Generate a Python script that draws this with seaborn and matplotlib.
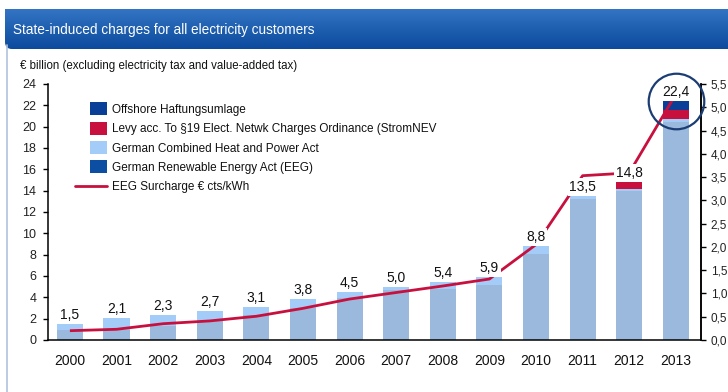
import numpy as np
import pandas as pd
import matplotlib
matplotlib.use("Agg")
import matplotlib.pyplot as plt
import seaborn as sns
from matplotlib import font_manager
from matplotlib.patches import FancyBboxPatch, Rectangle
from matplotlib.lines import Line2D
from matplotlib.legend_handler import HandlerPatch
from matplotlib.colors import LinearSegmentedColormap

# ---------------- data ----------------
years = ["2000", "2001", "2002", "2003", "2004", "2005", "2006",
         "2007", "2008", "2009", "2010", "2011", "2012", "2013"]
eeg = [0.9, 0.9, 1.3, 1.8, 2.3, 3.0, 3.9, 4.7, 4.8, 5.2, 8.1, 13.2, 14.0, 20.4]
chp = [0.6, 1.2, 1.0, 0.9, 0.8, 0.8, 0.6, 0.3, 0.6, 0.7, 0.7, 0.3, 0.2, 0.3]
stromnev = [0, 0, 0, 0, 0, 0, 0, 0, 0, 0, 0, 0, 0.6, 0.9]
offshore = [0, 0, 0, 0, 0, 0, 0, 0, 0, 0, 0, 0, 0, 0.8]
totals = [1.5, 2.1, 2.3, 2.7, 3.1, 3.8, 4.5, 5.0, 5.4, 5.9, 8.8, 13.5, 14.8, 22.4]
surcharge = [0.20, 0.23, 0.35, 0.41, 0.51, 0.68, 0.88, 1.02, 1.16, 1.31,
             2.05, 3.53, 3.59, 5.28]
left_ticks = list(range(0, 25, 2))
right_ticks = [0.0, 0.5, 1.0, 1.5, 2.0, 2.5, 3.0, 3.5, 4.0, 4.5, 5.0, 5.5]

legend_labels = ["Offshore Haftungsumlage",
                 "Levy acc. To §19 Elect. Netwk Charges Ordinance (StromNEV",
                 "German Combined Heat and Power Act",
                 "German Renewable Energy Act (EEG)",
                 "EEG Surcharge € cts/kWh"]

title = "State-induced charges for all electricity customers"
subtitle = "€ billion (excluding electricity tax and value-added tax)"

# ---------------- style ----------------
sns.set_theme(style="white")
available = {f.name for f in font_manager.fontManager.ttflist}
base_font = "Liberation Sans" if "Liberation Sans" in available else "DejaVu Sans"
plt.rcParams["font.family"] = [base_font, "DejaVu Sans"]

c_eeg_bar = "#9ab9dc"
c_eeg_leg = "#0b4ea2"
c_chp = "#a3cdf8"
c_nev = "#c8103e"
c_off = "#0a3f97"
c_line = "#c8103e"
c_circle = "#1b3d73"

W, H = 728, 392
fig = plt.figure(figsize=(W / 100, H / 100), dpi=100)
fig.patch.set_facecolor("white")

# header band with gradient (axes sized in pixels so data units = pixels)
hx0, hy0, hy1 = 5, 9, 49
hw, hh = W - hx0, hy1 - hy0
hax = fig.add_axes([hx0 / W, 1 - hy1 / H, hw / W, hh / H])
hax.set_axis_off()
hax.set_xlim(0, hw)
hax.set_ylim(0, hh)
grad = np.linspace(0, 1, 64).reshape(-1, 1)
cmap = LinearSegmentedColormap.from_list("hdr", ["#3374c4", "#0b4a9c"])
im = hax.imshow(grad, aspect="auto", cmap=cmap, extent=[0, hw, 0, hh], origin="upper")
clip = FancyBboxPatch((0, 0), hw + 20, hh + 20, boxstyle="round,pad=0,rounding_size=7",
                      transform=hax.transData, facecolor="none", edgecolor="none")
hax.add_patch(clip)
im.set_clip_path(clip)
fig.text(13 / W, 1 - 30 / H, title, color="white", fontsize=9.8,
         va="center", ha="left")

# frame line at left
fig.add_artist(Line2D([6.5 / W, 6.5 / W], [0, 1 - 45 / H], color="#aec2de",
                      lw=1.2, transform=fig.transFigure))

fig.text(20 / W, 1 - 66 / H, subtitle, color="#111111", fontsize=8.3,
         va="center", ha="left")

# main axes
ax_l, ax_r, ax_t, ax_b = 48, 701, 84, 340
ax = fig.add_axes([ax_l / W, 1 - ax_b / H, (ax_r - ax_l) / W, (ax_b - ax_t) / H])

eeg_a = np.array(eeg)
cum_chp = eeg_a + np.array(chp)
cum_nev = cum_chp + np.array(stromnev)
cum_off = cum_nev + np.array(offshore)

df = pd.DataFrame({"year": years, "eeg": eeg_a, "chp": cum_chp,
                   "nev": cum_nev, "off": cum_off})

bw = 0.56
for col, colr in [("off", c_off), ("nev", c_nev), ("chp", c_chp), ("eeg", c_eeg_bar)]:
    sns.barplot(data=df, x="year", y=col, color=colr, width=bw, saturation=1,
                errorbar=None, ax=ax, linewidth=0, zorder=2)

ax.set_xlim(-0.47, 13.54)
ax.set_ylim(0, 24)
ax.set_yticks(left_ticks)
ax.set_yticklabels([str(t) for t in left_ticks])
ax.set_xlabel("")
ax.set_ylabel("")
ax.spines["top"].set_visible(False)
for s in ["left", "bottom", "right"]:
    ax.spines[s].set_color("black")
    ax.spines[s].set_linewidth(1.1)
ax.tick_params(axis="y", which="both", left=True, length=3.5, width=1,
               color="black", pad=5, labelsize=9, labelcolor="#222222")
ax.tick_params(axis="x", length=0, pad=10, labelsize=10, labelcolor="#111111")
ax.set_facecolor("none")

# right axis with surcharge line
ax2 = ax.twinx()
ax2.set_ylim(0, 5.5)
ax2.set_yticks(right_ticks)
ax2.set_yticklabels([f"{t:.1f}".replace(".", ",") for t in right_ticks])
ax2.tick_params(axis="y", right=True, length=3.5, width=1, color="black", pad=3.5,
                labelsize=8.5, labelcolor="#222222")
for s in ["top", "left", "bottom"]:
    ax2.spines[s].set_visible(False)
ax2.spines["right"].set_color("black")
ax2.spines["right"].set_linewidth(1.1)
xpos = np.arange(len(years))
ax2.plot(xpos, surcharge, color=c_line, lw=2.0, zorder=3, solid_capstyle="butt")

# value labels (white background hides the line)
for i, t in enumerate(totals):
    ax2.annotate(f"{t:.1f}".replace(".", ","), xy=(i, t), xycoords=ax.transData,
                 xytext=(0, 1.5), textcoords="offset points", ha="center", va="bottom",
                 fontsize=10, color="#111111", zorder=5, annotation_clip=False,
                 bbox=dict(boxstyle="square,pad=0.12", fc="white", ec="none"))

# highlight circle around 2013
ax2.plot([13], [totals[13]], transform=ax.transData, marker="o", ms=40,
         mfc="none", mec=c_circle, mew=1.6, clip_on=False, zorder=6)

# legend
def right_square(legend, orig_handle, xdescent, ydescent, width, height, fontsize):
    w = width * 0.53
    h = height * 1.55
    return Rectangle((-xdescent + width - w, -ydescent + (height - h) / 2), w, h)

handles = [Rectangle((0, 0), 1, 1, fc=c_off, ec="none"),
           Rectangle((0, 0), 1, 1, fc=c_nev, ec="none"),
           Rectangle((0, 0), 1, 1, fc=c_chp, ec="none"),
           Rectangle((0, 0), 1, 1, fc=c_eeg_leg, ec="none"),
           Line2D([0], [0], color=c_line, lw=2.0)]
hmap = {h: HandlerPatch(patch_func=right_square) for h in handles[:4]}
leg = ax2.legend(handles, legend_labels, handler_map=hmap, loc="upper left",
                 bbox_to_anchor=((75 - ax_l) / (ax_r - ax_l), (ax_b - 104) / (ax_b - ax_t)),
                 frameon=False, fontsize=8.5, handlelength=2.75, handleheight=0.7,
                 handletextpad=0.4, labelspacing=0.62, borderpad=0, borderaxespad=0)
for txt in leg.get_texts():
    txt.set_color("#111111")

fig.savefig("out.png", dpi=100, facecolor="white")
